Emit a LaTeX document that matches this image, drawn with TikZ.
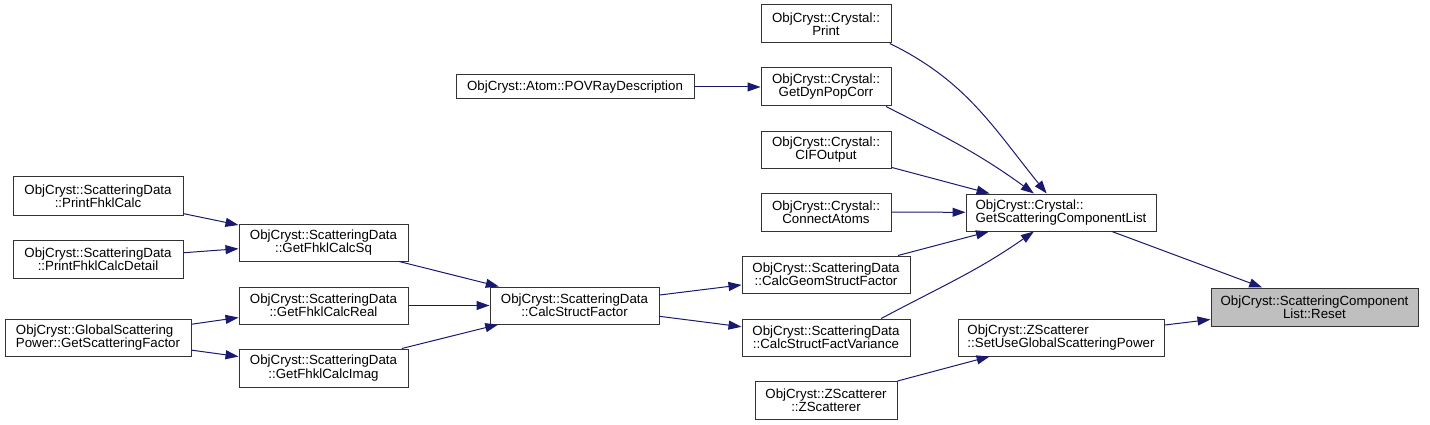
\documentclass[tikz,border=0pt]{standalone}
\usepackage{fontspec}
\setmainfont{Liberation Sans}
\usetikzlibrary{arrows.meta}
\definecolor{EdgeBlue}{RGB}{25,25,112}
\definecolor{RootGray}{RGB}{191,191,191}

\begin{document}
\begin{tikzpicture}[x=1pt,y=1pt,>={Triangle[length=13pt,width=9pt]},
  fn/.style={draw=black!80,line width=1pt,inner sep=0pt,minimum height=37pt,align=center,font=\fontsize{13.3}{11.7}\selectfont},
  call/.style={->,EdgeBlue,line width=1pt}]
\useasboundingbox (0,0) rectangle (1430,-425);
% callers of Crystal::GetScatteringComponentList
\node[fn,minimum width=130pt,minimum height=38pt] (print) at (826,-24){ObjCryst::Crystal::\\Print};
\node[fn,minimum width=238pt,minimum height=24pt] (pov) at (575,-87){ObjCryst::Atom::POVRayDescription};
\node[fn,minimum width=130pt,minimum height=38pt] (dyn) at (826,-87){ObjCryst::Crystal::\\GetDynPopCorr};
\node[fn,minimum width=130pt] (cif) at (826,-150){ObjCryst::Crystal::\\CIFOutput};
\node[fn,minimum width=130pt,minimum height=38pt] (conn) at (826,-212){ObjCryst::Crystal::\\ConnectAtoms};
\node[fn,minimum width=190pt,align=left] (gscl) at (1061,-212.5){ObjCryst::Crystal::\\GetScatteringComponentList};
% ScatteringData chain
\node[fn,minimum width=170pt,minimum height=38pt] (pfc) at (98,-196){ObjCryst::ScatteringData\\::PrintFhklCalc};
\node[fn,minimum width=169pt] (sq) at (323.5,-242.5){ObjCryst::ScatteringData\\::GetFhklCalcSq};
\node[fn,minimum width=170pt,minimum height=38pt] (pfcd) at (98,-259){ObjCryst::ScatteringData\\::PrintFhklCalcDetail};
\node[fn,minimum width=169pt] (real) at (323.5,-305.5){ObjCryst::ScatteringData\\::GetFhklCalcReal};
\node[fn,minimum width=186pt,align=left] (glob) at (98,-337.5){ObjCryst::GlobalScattering\\Power::GetScatteringFactor};
\node[fn,minimum width=169pt,minimum height=38pt] (imag) at (323.5,-368){ObjCryst::ScatteringData\\::GetFhklCalcImag};
\node[fn,minimum width=169pt] (csf) at (574.5,-305.5){ObjCryst::ScatteringData\\::CalcStructFactor};
\node[fn,minimum width=168pt] (geom) at (826,-274.5){ObjCryst::ScatteringData\\::CalcGeomStructFactor};
\node[fn,minimum width=168pt] (var) at (826,-337.5){ObjCryst::ScatteringData\\::CalcStructFactVariance};
% ZScatterer and the root
\node[fn,minimum width=142pt,minimum height=38pt] (zsc) at (826,-400){ObjCryst::ZScatterer\\::ZScatterer};
\node[fn,minimum width=206pt,align=left] (setuse) at (1061,-337.5){ObjCryst::ZScatterer\\::SetUseGlobalScatteringPower};
\node[fn,minimum width=207pt,minimum height=38pt,fill=RootGray] (reset) at (1314.5,-307){ObjCryst::ScatteringComponent\\List::Reset};
% edges
\draw[call] (pov) -- (dyn);
\draw[call] (print.-17) to[out=-26,in=129] (gscl.127);
\draw[call] (dyn.-18) to[out=-27,in=144] (gscl.145);
\draw[call] (cif) -- (gscl);
\draw[call] (conn) -- (gscl);
\draw[call] (geom) -- (gscl);
\draw[call] (var.19) to[out=28,in=215] (gscl.215);
\draw[call] (gscl) -- (reset);
\draw[call] (setuse) -- (reset);
\draw[call] (zsc) -- (setuse);
\draw[call] (pfc) -- (sq);
\draw[call] (pfcd) -- (sq);
\draw[call] (sq) -- (csf);
\draw[call] (real) -- (csf);
\draw[call] (imag) -- (csf);
\draw[call] (csf) -- (geom);
\draw[call] (csf) -- (var);
\draw[call] (glob) -- (real);
\draw[call] (glob) -- (imag);
\end{tikzpicture}
\end{document}
